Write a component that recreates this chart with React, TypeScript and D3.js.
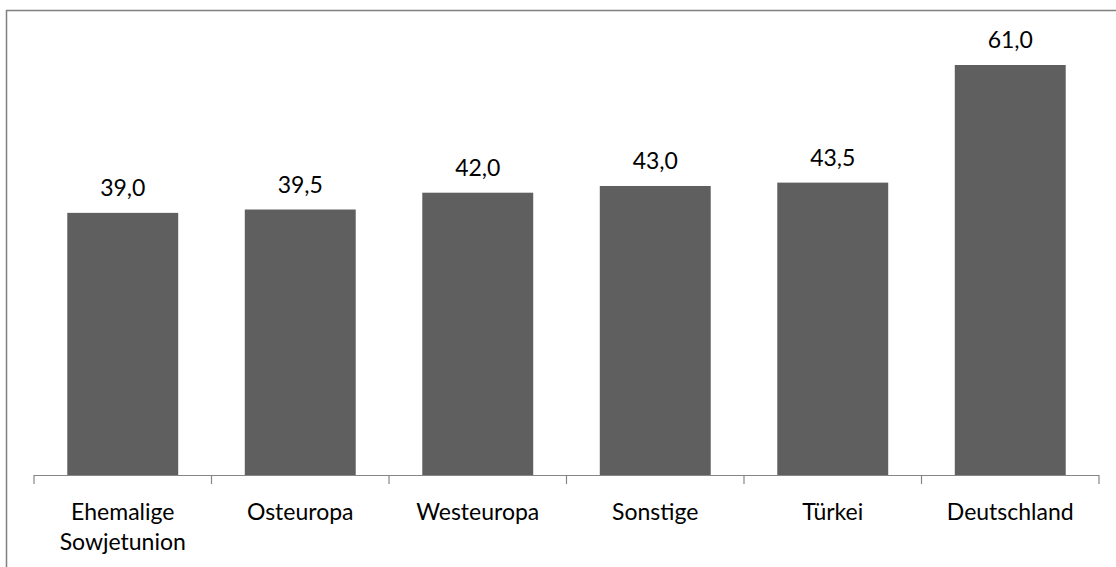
import React from "react";
import * as d3 from "d3";

const categories: string[][] = [
  ["Ehemalige", "Sowjetunion"],
  ["Osteuropa"],
  ["Westeuropa"],
  ["Sonstige"],
  ["Türkei"],
  ["Deutschland"],
];
const values: number[] = [39.0, 39.5, 42.0, 43.0, 43.5, 61.0];

const W = 1116;
const H = 567;

export default function App() {
  const keys = categories.map((c) => c.join(" "));
  const x = d3.scaleBand<string>().domain(keys).range([34, 1099]).paddingInner(0.375).paddingOuter(0.1875);
  const y = d3.scaleLinear().domain([0, 61]).range([475, 65]);
  const fmt = (v: number) => v.toFixed(1).replace(".", ",");
  const step = x.step();
  const font = "Lato, 'Open Sans', sans-serif";
  return (
    <svg width={W} height={H} style={{ position: "absolute", left: 0, top: 0 }}>
      <rect x={6.5} y={10.5} width={W + 20} height={H + 20} fill="white" stroke="#808080" strokeWidth={1.5} />
      {values.map((v, i) => (
        <g key={keys[i]}>
          <rect x={x(keys[i])} y={y(v)} width={x.bandwidth()} height={y(0) - y(v)} fill="#5f5f5f" />
          <text
            x={(x(keys[i]) as number) + x.bandwidth() / 2}
            y={y(v) - 17}
            textAnchor="middle"
            fontFamily={font}
            fontSize={23}
            fill="#000"
          >
            {fmt(v)}
          </text>
        </g>
      ))}
      <line x1={34} x2={1099} y1={475.5} y2={475.5} stroke="#868686" strokeWidth={1.2} />
      {d3.range(keys.length + 1).map((i) => (
        <line key={i} x1={34 + i * step} x2={34 + i * step} y1={475} y2={484} stroke="#868686" strokeWidth={1.2} />
      ))}
      {categories.map((c, i) => (
        <text key={i} textAnchor="middle" fontFamily={font} fontSize={23} fill="#000">
          {c.map((line, j) => (
            <tspan key={j} x={(x(keys[i]) as number) + x.bandwidth() / 2} y={520 + j * 30}>
              {line}
            </tspan>
          ))}
        </text>
      ))}
    </svg>
  );
}
